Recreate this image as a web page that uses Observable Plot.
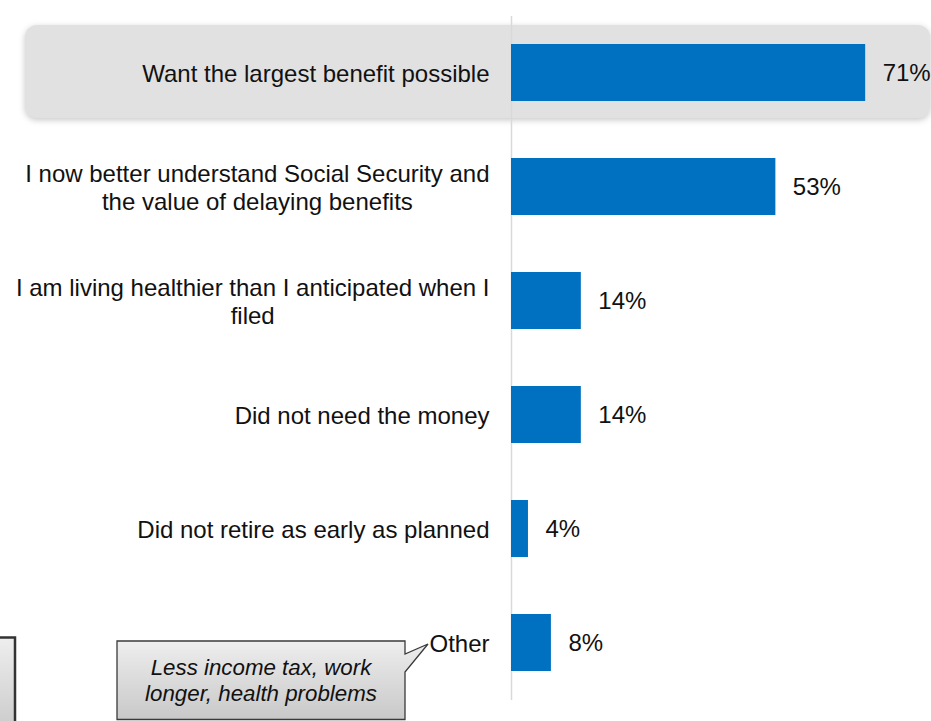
<!DOCTYPE html>
<html><head><meta charset="utf-8">
<script src="https://cdn.jsdelivr.net/npm/d3@7"></script>
<script src="https://cdn.jsdelivr.net/npm/@observablehq/plot@0.6"></script>
<style>html,body{margin:0;padding:0;background:#fff;overflow:hidden}</style>
</head><body><div id="chart"></div>
<script>
const categories = [
  "Want the largest benefit possible",
  "I now better understand Social Security and the value of delaying benefits",
  "I am living healthier than I anticipated when I filed",
  "Did not need the money",
  "Did not retire as early as planned",
  "Other"
];
const categoryLines = [
  "Want the largest benefit possible",
  "I now better understand Social Security and\nthe value of delaying benefits",
  "I am living healthier than I anticipated when I\nfiled",
  "Did not need the money",
  "Did not retire as early as planned",
  "Other"
];
const values = [71, 53, 14, 14, 3.4, 8];
const valueLabels = ["71%", "53%", "14%", "14%", "4%", "8%"];
const highlighted = ["Want the largest benefit possible"];
const calloutLines = ["Less income tax, work", "longer, health problems"];

const FONT = "'Liberation Sans', Arial, Helvetica, sans-serif";
const FS = 24;
const data = categories.map((c, i) => ({category: c, lines: categoryLines[i], value: values[i], label: valueLabels[i]}));

const ctx = document.createElement("canvas").getContext("2d");
ctx.font = `${FS}px 'Liberation Sans', Arial, sans-serif`;
const maxLineWidth = s => d3.max(s.split("\n"), l => ctx.measureText(l).width);
const GAP = 22;

const labelMarks = data.map(d => Plot.text([d], {
  x: () => 0, y: "category", text: "lines",
  textAnchor: "middle", lineHeight: 1.17, fill: "#111",
  dx: -(GAP + maxLineWidth(d.lines) / 2)
}));

const chart = Plot.plot({
  width: 931,
  height: 721,
  marginLeft: 25,
  marginRight: 0,
  marginTop: 0,
  marginBottom: 6,
  style: {fontFamily: FONT, fontSize: FS + "px", background: "#fff", color: "#111", overflow: "visible"},
  x: {domain: [0, 84], range: [511, 930], axis: null},
  y: {domain: categories, paddingInner: 0.5, paddingOuter: 0.386, round: false, axis: null},
  marks: [
    Plot.cell(highlighted, {y: d => d, fill: "#e1e1e1", rx: 12, insetTop: -19, insetBottom: -17, insetRight: 1}),
    Plot.ruleX([0], {stroke: "#d9d9d9", strokeWidth: 1.5, insetTop: 16, insetBottom: 15}),
    Plot.barX(data, {x: "value", y: "category", fill: "#0070c0"}),
    Plot.text(data, {x: "value", y: "category", text: "label", textAnchor: "start", dx: 17, fill: "#111"}),
    ...labelMarks
  ]
});
document.getElementById("chart").appendChild(chart);

const svg = d3.select(chart);
svg.select('g[aria-label="cell"]').style("filter", "drop-shadow(0px 2px 3px rgba(0,0,0,0.22))");

// annotation callouts
const defs = svg.append("defs");
const grad = defs.append("linearGradient").attr("id", "calloutGrad").attr("x1", 0).attr("y1", 0).attr("x2", 0).attr("y2", 1);
grad.append("stop").attr("offset", "0%").attr("stop-color", "#eeeeee");
grad.append("stop").attr("offset", "100%").attr("stop-color", "#c8c8c8");

const ann = svg.append("g").attr("aria-label", "annotation");
ann.append("rect").attr("x", -10).attr("y", 637.5).attr("width", 25).attr("height", 100)
  .attr("fill", "url(#calloutGrad)").attr("stroke", "#333").attr("stroke-width", 2.5);
ann.append("path")
  .attr("d", "M117,641 H405 V654 L428,644 L405,672 V719.5 H117 Z")
  .attr("fill", "url(#calloutGrad)").attr("stroke", "#3a3a3a").attr("stroke-width", 1.3);
ann.append("text")
  .attr("x", 261).attr("y", 675)
  .attr("text-anchor", "middle")
  .attr("font-family", FONT).attr("font-size", 22.3).attr("font-style", "italic").attr("fill", "#111")
  .selectAll("tspan").data(calloutLines).join("tspan")
  .attr("x", 261).attr("dy", (d, i) => i ? 26 : 0).text(d => d);
</script>
</body></html>
